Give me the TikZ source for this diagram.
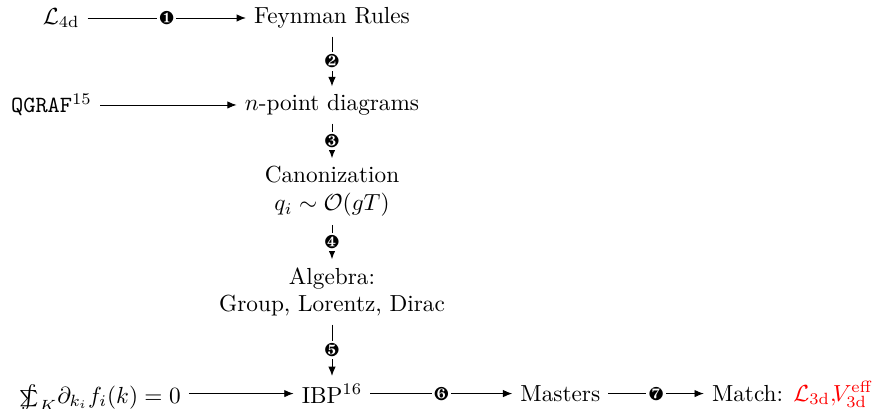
\documentclass[tikz,border=0pt]{standalone}
\usepackage{amsmath}
\usepackage{pifont}
\usetikzlibrary{arrows.meta, positioning}
\newcommand{\sumintop}{\mathord{\hbox{\ooalign{$\scriptstyle\sum$\cr\hidewidth$\int$\hidewidth\cr}}}}

\begin{document}
\begin{tikzpicture}[
    arr/.style={-{Latex[length=4pt, width=3.2pt]}},
    num/.style={fill=white, inner sep=1pt, font=\footnotesize},
  ]
    \useasboundingbox (-142.76pt, 7.74pt) rectangle (232.63pt, -168.13pt);

    % main column
    \node (feyn) at (0,0) {Feynman Rules};
    \node (npt) at (0,-37.4pt) {$n$-point diagrams};
    \node[align=center] (canon) at (0,-74.6pt) {Canonization\\$q_i \sim \mathcal{O}(gT)$};
    \node[align=center] (alg) at (0,-117.8pt) {Algebra:\\Group, Lorentz, Dirac};
    \node (ibp) at (0,-161.5pt) {IBP$^{16}$};

    % inputs and outputs
    \node[left=68pt of feyn] (lag) {$\mathcal{L}_{\rm 4d}$};
    \node[left=58.7pt of npt] (qgraf) {\texttt{QGRAF}$^{15}$};
    \node[base left=45pt of ibp] (sumint) {$\sumintop_K \partial_{k_i} f_i(k) = 0$};
    \node[right=61pt of ibp] (masters) {Masters};
    \node[base right=41pt of masters] (match) {Match: \textcolor{red}{$\mathcal{L}_{\rm 3d}{,}\!V_{\rm 3d}^{\rm eff}$}};

    \draw[arr] (lag) -- node[num] {\ding{182}} (feyn);
    \draw[arr] (feyn) -- node[num] {\ding{183}} (npt);
    \draw[arr] (qgraf) -- (npt);
    \draw[arr] (npt) -- node[num] {\ding{184}} (canon);
    \draw[arr] (canon) -- node[num] {\ding{185}} (alg);
    \draw[arr] (alg) -- node[num] {\ding{186}} (ibp);
    \draw[arr] (sumint.east |- ibp) -- (ibp);
    \draw[arr] (ibp) -- node[num] {\ding{187}} (masters);
    \draw[arr] (masters) -- node[num] {\ding{188}} (match.west |- masters);
  \end{tikzpicture}
\end{document}
